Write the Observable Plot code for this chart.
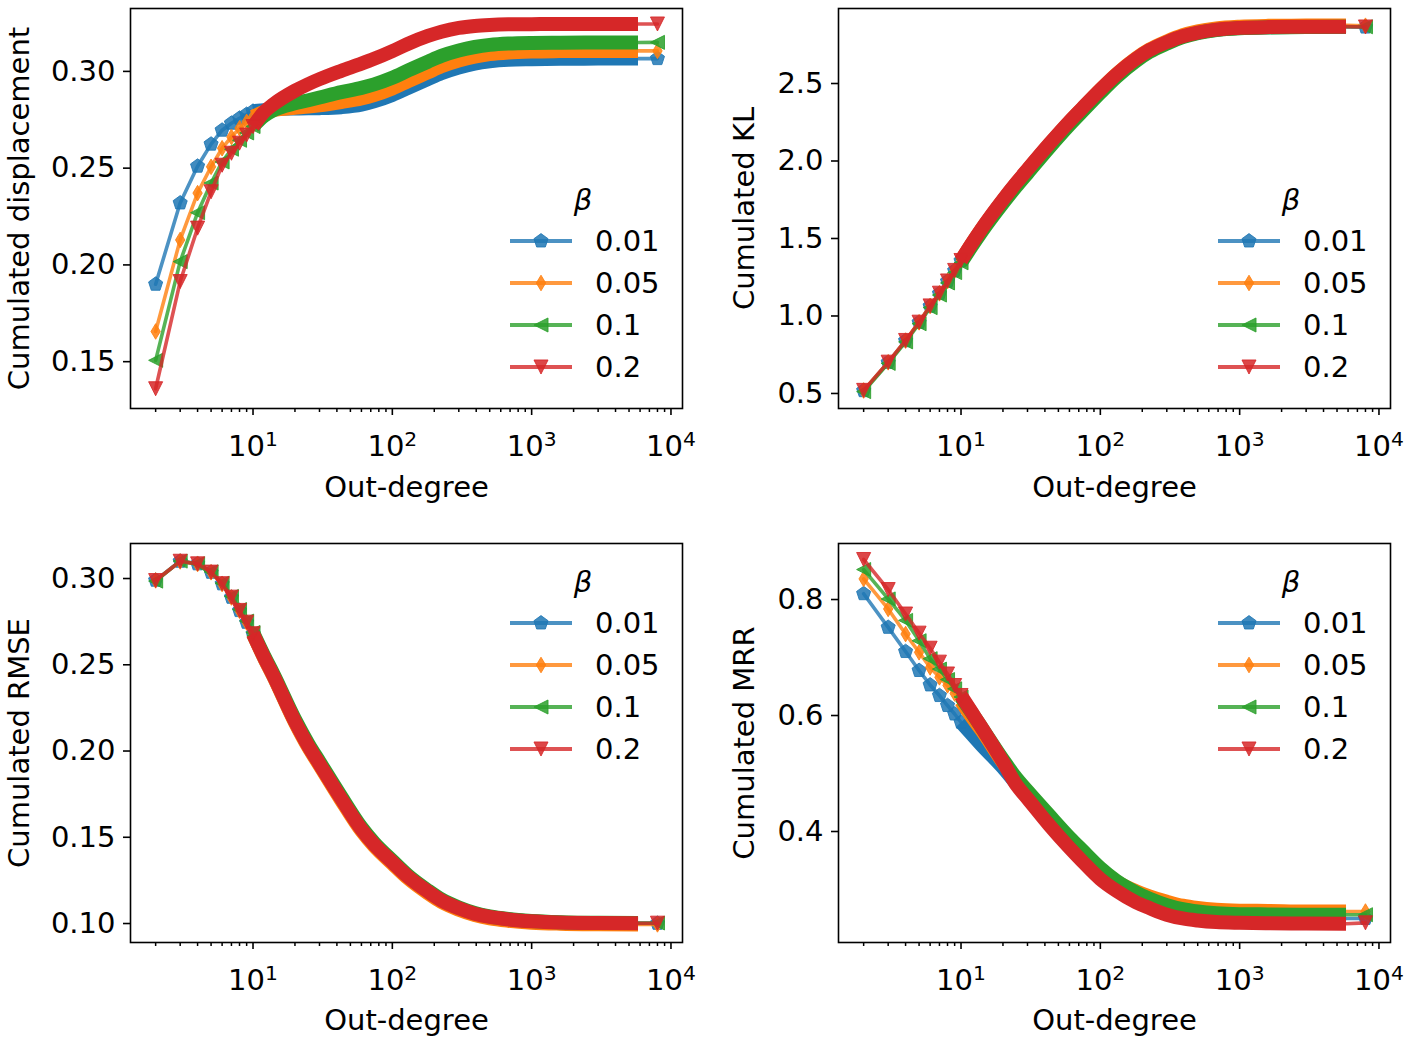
<!DOCTYPE html>
<html><head><meta charset="utf-8">
<script src="https://cdn.jsdelivr.net/npm/d3@7"></script>
<script src="https://cdn.jsdelivr.net/npm/@observablehq/plot@0.6"></script>
<style>
body{margin:0;background:#fff;}
#fig{position:relative;width:1411px;height:1041px;overflow:hidden;font-family:"DejaVu Sans",sans-serif;background:#fff;}
#fig > svg{position:absolute;}
</style></head><body><div id="fig"></div>
<script>
// ---------- data ----------
const outDegree = [2,3,4,5,6,7,8,9,10,12,14,20,25,30,43,60,74,100,130,180,225,300,390,500,680,1000,1600,3000,5800,8000];
const betas = ["0.01","0.05","0.1","0.2"];

const displacement_001 = [0.190,0.232,0.251,0.2624,0.2696,0.2732,0.2758,0.2778,0.2794,0.2800,0.2805,0.2808,0.2809,0.2810,0.2815,0.2828,0.2845,0.2878,0.2915,0.2960,0.2990,0.3020,0.3040,0.3052,0.3060,0.3063,0.3065,0.3066,0.3066,0.3066];
const displacement_005 = [0.1656,0.2129,0.2371,0.2507,0.2603,0.2661,0.2706,0.2739,0.2765,0.2790,0.2800,0.2812,0.2818,0.2825,0.2842,0.2860,0.2878,0.2912,0.2950,0.2995,0.3026,0.3056,0.3076,0.3089,0.3098,0.3103,0.3105,0.3106,0.3106,0.3106];
const displacement_01 = [0.1507,0.2017,0.2270,0.2423,0.2532,0.2598,0.2644,0.2682,0.2715,0.2770,0.2799,0.2835,0.2851,0.2865,0.2893,0.2915,0.2933,0.2967,0.3005,0.3050,0.3080,0.3108,0.3126,0.3137,0.3144,0.3147,0.3148,0.3149,0.3149,0.3150];
const displacement_02 = [0.1360,0.1914,0.2190,0.2378,0.2515,0.2577,0.2629,0.2671,0.2715,0.2790,0.2830,0.2900,0.2935,0.2960,0.3003,0.3040,0.3065,0.3105,0.3143,0.3183,0.3205,0.3225,0.3235,0.3240,0.3243,0.3244,0.3245,0.3245,0.3245,0.3245];

const kl_001 = [0.518,0.700,0.840,0.958,1.063,1.145,1.224,1.292,1.356,1.466,1.555,1.744,1.853,1.938,2.103,2.248,2.333,2.453,2.551,2.654,2.711,2.764,2.803,2.828,2.847,2.858,2.863,2.865,2.866,2.864];
const kl_005 = [0.519,0.701,0.841,0.959,1.064,1.146,1.225,1.293,1.357,1.468,1.558,1.747,1.857,1.942,2.107,2.252,2.338,2.460,2.559,2.662,2.719,2.772,2.812,2.837,2.856,2.867,2.872,2.874,2.875,2.873];
const kl_01 = [0.512,0.694,0.833,0.950,1.054,1.135,1.213,1.280,1.343,1.452,1.540,1.727,1.836,1.920,2.086,2.232,2.318,2.440,2.540,2.645,2.703,2.757,2.799,2.825,2.845,2.857,2.862,2.864,2.866,2.866];
const kl_02 = [0.520,0.702,0.842,0.960,1.065,1.147,1.226,1.294,1.358,1.470,1.560,1.750,1.860,1.945,2.110,2.255,2.340,2.460,2.557,2.659,2.715,2.767,2.805,2.829,2.848,2.859,2.864,2.866,2.867,2.865];

const rmse_001 = [0.2990,0.3100,0.3085,0.3036,0.2969,0.2891,0.2814,0.2746,0.2679,0.2543,0.2436,0.2171,0.2027,0.1924,0.1722,0.1545,0.1457,0.1355,0.1269,0.1184,0.1133,0.1087,0.1056,0.1037,0.1023,0.1012,0.1005,0.1002,0.1001,0.1001];
const rmse_005 = [0.2989,0.3099,0.3084,0.3036,0.2968,0.2890,0.2813,0.2745,0.2678,0.2540,0.2432,0.2165,0.2020,0.1917,0.1714,0.1537,0.1449,0.1347,0.1261,0.1176,0.1125,0.1080,0.1049,0.1030,0.1016,0.1005,0.0999,0.0996,0.0995,0.0995];
const rmse_01 = [0.2985,0.3101,0.3086,0.3039,0.2973,0.2896,0.2820,0.2753,0.2687,0.2553,0.2447,0.2184,0.2041,0.1938,0.1736,0.1558,0.1469,0.1365,0.1278,0.1192,0.1140,0.1093,0.1061,0.1041,0.1026,0.1015,0.1008,0.1004,0.1003,0.1003];
const rmse_02 = [0.2988,0.3100,0.3085,0.3037,0.2970,0.2892,0.2815,0.2747,0.2680,0.2544,0.2437,0.2172,0.2028,0.1925,0.1723,0.1546,0.1458,0.1356,0.1270,0.1185,0.1134,0.1088,0.1057,0.1038,0.1024,0.1013,0.1006,0.1003,0.1002,0.1002];

const mrr_001 = [0.810,0.752,0.7103,0.6776,0.6527,0.6344,0.6172,0.6026,0.5884,0.567,0.549,0.510,0.482,0.461,0.418,0.381,0.360,0.330,0.309,0.290,0.279,0.268,0.261,0.257,0.254,0.252,0.251,0.250,0.250,0.250];
const mrr_005 = [0.8356,0.7838,0.7405,0.709,0.683,0.6658,0.652,0.638,0.625,0.597,0.575,0.519,0.487,0.464,0.422,0.385,0.364,0.335,0.314,0.297,0.288,0.279,0.272,0.268,0.265,0.2635,0.263,0.262,0.262,0.262];
const mrr_01 = [0.8517,0.801,0.764,0.729,0.698,0.680,0.662,0.646,0.632,0.604,0.580,0.524,0.492,0.470,0.428,0.390,0.368,0.337,0.315,0.295,0.284,0.273,0.266,0.262,0.259,0.2575,0.257,0.2565,0.2565,0.2565];
const mrr_02 = [0.869,0.8172,0.775,0.742,0.716,0.692,0.6716,0.6517,0.6345,0.605,0.580,0.520,0.480,0.457,0.411,0.372,0.349,0.318,0.298,0.278,0.268,0.2565,0.250,0.2465,0.2438,0.2425,0.2417,0.2412,0.241,0.2425];

const majorTicks = [10,100,1000,10000];
const minorTicks = [2,3,4,5,6,7,8,9,20,30,40,50,60,70,80,90,200,300,400,500,600,700,800,900,2000,3000,4000,5000,6000,7000,8000,9000];
const yTicksDisp = [0.15,0.20,0.25,0.30];
const yTicksKL = [0.5,1.0,1.5,2.0,2.5];
const yTicksRMSE = [0.10,0.15,0.20,0.25,0.30];
const yTicksMRR = [0.4,0.6,0.8];

// ---------- styling ----------
const colors = ["#1f77b4","#ff7f0e","#2ca02c","#d62728"];
const FONT = "DejaVu Sans";
const FS = 29;

function rad(size){ return Math.sqrt(size/Math.PI); }
const symPentagon = {draw(c,size){ const R=rad(size)*0.95; for(let k=0;k<5;k++){const a=-Math.PI/2+k*2*Math.PI/5; const x=R*Math.cos(a), y=R*Math.sin(a); k?c.lineTo(x,y):c.moveTo(x,y);} c.closePath(); }};
const symThinDiamond = {draw(c,size){ const R=rad(size); c.moveTo(0,-R); c.lineTo(R*0.6,0); c.lineTo(0,R); c.lineTo(-R*0.6,0); c.closePath(); }};
const symTriLeft = {draw(c,size){ const R=rad(size)*0.9; c.moveTo(-R,0); c.lineTo(R,-R); c.lineTo(R,R); c.closePath(); }};
const symTriDown = {draw(c,size){ const R=rad(size)*0.9; c.moveTo(0,R); c.lineTo(-R,-R); c.lineTo(R,-R); c.closePath(); }};
const symbols = [symPentagon, symThinDiamond, symTriLeft, symTriDown];
const MR = 7.8;

function tidy(arrs){
  return arrs.map((ys,i)=> outDegree.map((x,j)=>({x, y: ys[j], beta: betas[i], i})));
}

function panel(o){
  const series = tidy(o.series);
  const marks = [];
  series.forEach((rows,i)=>{
    marks.push(Plot.line(rows,{x:"x",y:"y",stroke:colors[i],strokeWidth:3.6,strokeOpacity:0.8}));
    marks.push(Plot.line(rows.filter(d=>d.x>=10 && d.x<=5800),{x:"x",y:"y",stroke:colors[i],strokeWidth:14,strokeLinecap:"butt",curve:"monotone-x"}));
    marks.push(Plot.dot(rows.filter(d=>d.x<=10 || d.x===8000),{x:"x",y:"y",symbol:symbols[i],r:MR,fill:colors[i],fillOpacity:0.85,stroke:colors[i],strokeOpacity:0.85,strokeWidth:1}));
  });
  marks.push(Plot.axisX({ticks:minorTicks,tickSize:4,tickFormat:()=>"",label:null,strokeWidth:1.5}));
  marks.push(Plot.axisX({ticks:majorTicks,tickSize:7,tickPadding:20,strokeWidth:1.6,tickFormat:d=>"10^"+Math.round(Math.log10(d)),
    label:"Out-degree",labelAnchor:"center",labelOffset:o.xLabelOffset,labelArrow:"none"}));
  marks.push(Plot.axisY({ticks:o.yTicks,tickSize:7,tickPadding:8,strokeWidth:1.6,tickFormat:o.yFormat,
    label:o.yLabel,labelAnchor:"center",labelOffset:o.yLabelOffset,labelArrow:"none"}));
  marks.push(Plot.frame({stroke:"black",strokeWidth:1.6}));
  const svg = Plot.plot({
    width:o.width,height:o.height,
    marginLeft:130,marginRight:o.marginRight,marginTop:o.marginTop,marginBottom:o.marginBottom,
    x:{type:"log",domain:[1.32,12100]},
    y:{domain:o.yDomain},
    style:{fontFamily:FONT,fontSize:FS+"px",color:"black",background:"transparent",overflow:"visible"},
    marks
  });
  svg.style.left=o.left+"px"; svg.style.top=o.top+"px";
  // power-of-ten tick labels with a raised exponent
  d3.select(svg).selectAll("text").each(function(){
    const m = (this.textContent||"").match(/^10\^(\d)$/);
    if(m){
      const el = d3.select(this);
      el.text("10");
      el.append("tspan").attr("dy","-0.5em").attr("font-size","0.7em").text(m[1]);
    }
  });
  // legend (frameless, inside axes)
  const g = d3.select(svg).append("g").attr("font-family",FONT).attr("font-size",FS).attr("text-anchor","start");
  g.append("text").attr("x",583).attr("y",o.legTitleY).attr("text-anchor","middle").attr("dy","0.35em")
    .attr("font-style","italic").attr("fill","black").text("\u03b2");
  betas.forEach((b,i)=>{
    const y = o.legY0 + i*42;
    g.append("line").attr("x1",510).attr("x2",572).attr("y1",y).attr("y2",y)
      .attr("stroke",colors[i]).attr("stroke-width",4).attr("stroke-opacity",0.8);
    const p = d3.path(); symbols[i].draw(p, Math.PI*MR*MR);
    g.append("path").attr("d",p.toString()).attr("transform",`translate(541,${y})`)
      .attr("fill",colors[i]).attr("fill-opacity",0.85).attr("stroke",colors[i]).attr("stroke-opacity",0.85);
    g.append("text").attr("x",595).attr("y",y).attr("dy","0.36em").attr("text-anchor","start").attr("fill","black").text(b);
  });
  document.getElementById("fig").appendChild(svg);
}

const f2 = d3.format(".2f"), f1 = d3.format(".1f");
panel({series:[displacement_001,displacement_005,displacement_01,displacement_02], yLabel:"Cumulated displacement",
  yDomain:[0.1258,0.3325], yTicks:yTicksDisp, yFormat:f2, left:0, top:0, width:705, height:520,
  marginRight:23, marginTop:8, marginBottom:112, xLabelOffset:88, yLabelOffset:122, legTitleY:200, legY0:241});
panel({series:[kl_001,kl_005,kl_01,kl_02], yLabel:"Cumulated KL",
  yDomain:[0.403,2.984], yTicks:yTicksKL, yFormat:f1, left:708, top:0, width:703, height:520,
  marginRight:21, marginTop:8, marginBottom:112, xLabelOffset:88, yLabelOffset:105, legTitleY:200, legY0:241});
panel({series:[rmse_001,rmse_005,rmse_01,rmse_02], yLabel:"Cumulated RMSE",
  yDomain:[0.089,0.3203], yTicks:yTicksRMSE, yFormat:f2, left:0, top:520, width:705, height:521,
  marginRight:23, marginTop:23, marginBottom:99, xLabelOffset:87, yLabelOffset:122, legTitleY:62, legY0:103});
panel({series:[mrr_001,mrr_005,mrr_01,mrr_02], yLabel:"Cumulated MRR",
  yDomain:[0.2086,0.8966], yTicks:yTicksMRR, yFormat:f1, left:708, top:520, width:703, height:521,
  marginRight:21, marginTop:23, marginBottom:99, xLabelOffset:87, yLabelOffset:105, legTitleY:62, legY0:103});
</script></body></html>
